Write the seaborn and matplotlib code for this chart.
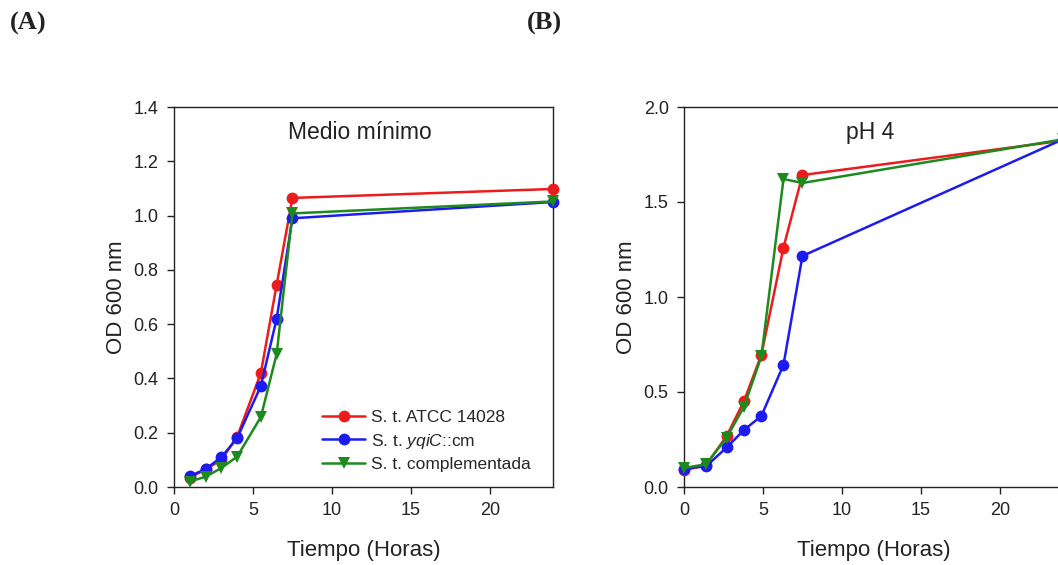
import matplotlib
matplotlib.use("Agg")
import matplotlib.pyplot as plt
import seaborn as sns
import pandas as pd

# Growth curves (OD 600 nm) for the three strains
series_labels = ["S. t. ATCC 14028", r"S. t. $\mathit{yqiC}$::cm", "S. t. complementada"]

hours_min = [1, 2, 3, 4, 5.5, 6.5, 7.5, 24]
atcc_min = [0.035, 0.065, 0.10, 0.185, 0.42, 0.745, 1.065, 1.098]
yqic_min = [0.04, 0.066, 0.11, 0.18, 0.372, 0.62, 0.99, 1.05]
comp_min = [0.02, 0.038, 0.07, 0.112, 0.258, 0.49, 1.008, 1.052]

hours_ph4 = [0, 1.4, 2.7, 3.8, 4.9, 6.3, 7.5, 24]
atcc_ph4 = [0.088, 0.115, 0.268, 0.453, 0.696, 1.26, 1.642, 1.823]
yqic_ph4 = [0.097, 0.109, 0.208, 0.30, 0.374, 0.643, 1.216, 1.83]
comp_ph4 = [0.10, 0.12, 0.26, 0.423, 0.687, 1.621, 1.60, 1.83]

colors = ["#ec1c1c", "#1c1cf0", "#1e8a1e"]
markers = ["o", "o", "v"]

sns.set_theme(style="ticks")
plt.rcParams["font.family"] = ["Liberation Sans", "DejaVu Sans"]
plt.rcParams["mathtext.fontset"] = "custom"
plt.rcParams["mathtext.it"] = "Liberation Sans:italic"
plt.rcParams["mathtext.rm"] = "Liberation Sans"

fig = plt.figure(figsize=(10.58, 5.65), dpi=100)
ax_a = fig.add_axes([174 / 1058, 78 / 565, 379 / 1058, 380 / 565])
ax_b = fig.add_axes([684 / 1058, 78 / 565, 379 / 1058, 380 / 565])


def draw_panel(ax, hours, curves, title, ylim, yticks, yfmt):
    for vals, lab, col, mk in zip(curves, series_labels, colors, markers):
        df = pd.DataFrame({"Tiempo": hours, "OD": vals})
        sns.lineplot(data=df, x="Tiempo", y="OD", ax=ax, color=col, marker=mk,
                     markersize=8.5, markeredgewidth=0, linewidth=1.8,
                     label=lab, clip_on=False, zorder=3)
    ax.set_xlim(0, 24)
    ax.set_ylim(*ylim)
    ax.set_xticks([0, 5, 10, 15, 20])
    ax.set_yticks(yticks)
    ax.set_yticklabels([yfmt.format(v) for v in yticks])
    ax.tick_params(axis="both", direction="out", length=5, width=1,
                   labelsize=13, color="#222222", labelcolor="#222222", pad=6)
    for sp in ax.spines.values():
        sp.set_linewidth(1.0)
        sp.set_color("#222222")
    ax.set_xlabel("Tiempo (Horas)", fontsize=16, color="#222222", labelpad=15)
    ax.set_ylabel("OD 600 nm", fontsize=16, color="#222222", labelpad=5)
    ax.text(0.49, 0.932, title, transform=ax.transAxes, ha="center", va="center",
            fontsize=16.5, color="#222222")


draw_panel(ax_a, hours_min, [atcc_min, yqic_min, comp_min], "Medio mínimo",
           (0, 1.4), [0.0, 0.2, 0.4, 0.6, 0.8, 1.0, 1.2, 1.4], "{:.1f}")
draw_panel(ax_b, hours_ph4, [atcc_ph4, yqic_ph4, comp_ph4], "pH 4",
           (0, 2.0), [0.0, 0.5, 1.0, 1.5, 2.0], "{:.1f}")

ax_b.get_legend().remove()
ax_a.legend(loc="lower left", bbox_to_anchor=(0.39, 0.04), frameon=False,
            fontsize=12.5, handlelength=2.5, handletextpad=0.35,
            labelspacing=0.35, borderpad=0, borderaxespad=0)

fig.text(10 / 1058, 1 - 23 / 565, "(A)", fontsize=19, fontweight="bold",
         family="Liberation Serif", va="center", ha="left", color="#222222")
fig.text(527 / 1058, 1 - 23 / 565, "(B)", fontsize=19, fontweight="bold",
         family="Liberation Serif", va="center", ha="left", color="#222222")

fig.savefig("out.png", dpi=100)
